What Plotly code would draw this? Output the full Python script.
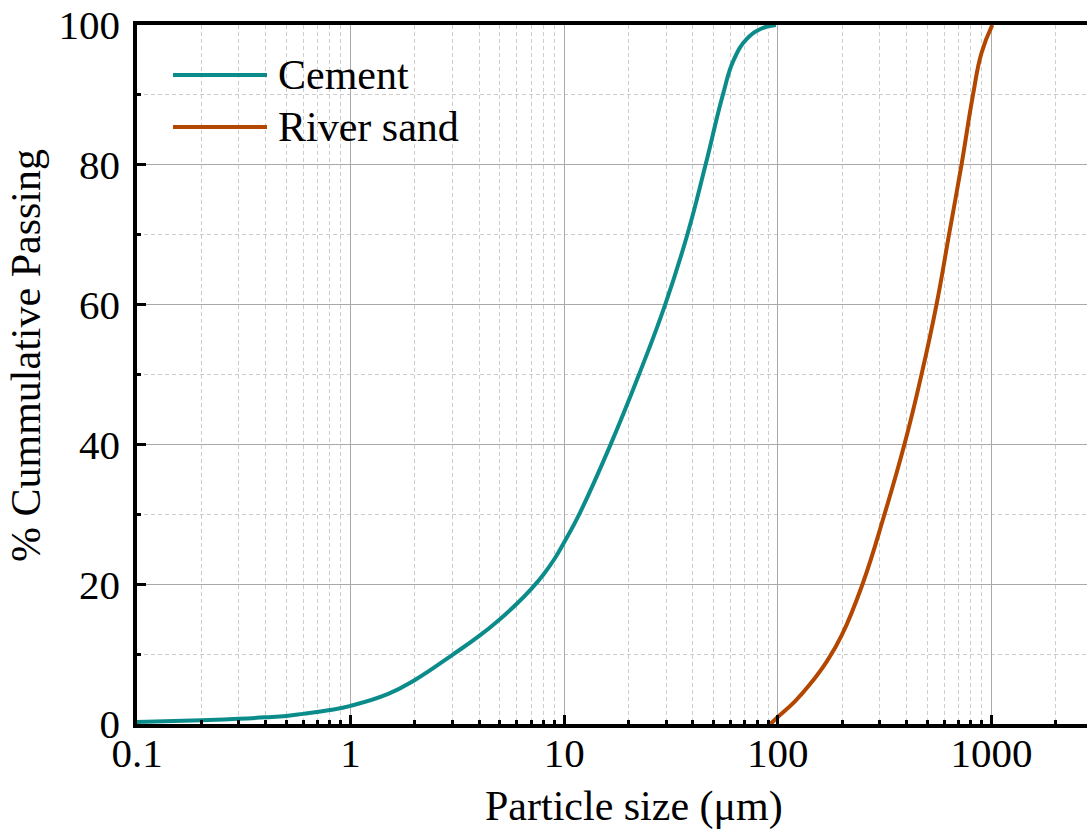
import plotly.graph_objects as go

# Particle size distribution (cumulative % passing) for the two materials
cement_size = [0.1, 0.2, 0.3, 0.4, 0.5, 0.6, 0.8, 1, 1.5, 2, 3, 4, 5, 6, 7, 8, 9, 10,
               11.8, 16.5, 22.4, 29.7, 37.7, 45.9, 55.3, 62.2, 71.6, 84, 98]
cement_pass = [0.3, 0.55, 0.75, 0.95, 1.15, 1.45, 2.0, 2.6, 4.3, 6.3, 9.9, 12.6, 15.0, 17.2, 19.3, 21.4, 23.6, 26.0,
               30.1, 40, 50, 60, 70, 80, 90, 95, 98, 99.5, 100]

sand_size = [92.4, 100, 120, 140.8, 170, 199.3, 249.2, 315.9, 394, 470.8, 553.4, 633.2, 724.4, 820.1, 898.8, 1010]
sand_pass = [0, 1.0, 3.2, 5.6, 9.0, 12.7, 20, 30, 40.3, 50, 60, 70, 80, 90, 96, 100]

x_major = [0.1, 1, 10, 100, 1000]
x_major_text = ["0.1", "1", "10", "100", "1000"]
x_minor = [m * d for d in [0.1, 1, 10, 100, 1000] for m in range(2, 10)]
y_major = [0, 20, 40, 60, 80, 100]
y_minor = [10, 30, 50, 70, 90]

series_names = ["Cement", "River sand"]
series_colors = ["#0B8C8A", "#B34700"]

FONT = "Liberation Serif"
W, H = 1087, 839
L, R, T, B = 137, 0, 25, 115
PW, PH = W - L - R, H - T - B


def px_to_paper(px, py):
    return (px - L) / PW, (H - B - py) / PH


fig = go.Figure()
fig.add_trace(go.Scatter(x=cement_size, y=cement_pass, mode="lines", name=series_names[0],
                         line=dict(color=series_colors[0], width=4, shape="spline", smoothing=1.3)))
fig.add_trace(go.Scatter(x=sand_size, y=sand_pass, mode="lines", name=series_names[1],
                         line=dict(color=series_colors[1], width=4, shape="spline", smoothing=1.3)))

# Hand-drawn legend (long line samples)
legend_rows = [75, 127]
for name, color, py in zip(series_names, series_colors, legend_rows):
    x0, yy = px_to_paper(173, py)
    x1, _ = px_to_paper(267, py)
    fig.add_shape(type="line", xref="paper", yref="paper", x0=x0, x1=x1, y0=yy, y1=yy,
                  line=dict(color=color, width=4))
    xt, _ = px_to_paper(276, py)
    fig.add_annotation(xref="paper", yref="paper", x=xt, y=yy, text=name, showarrow=False,
                       xanchor="left", yanchor="middle", font=dict(family=FONT, size=42, color="black"))

# Axis titles
tx, ty = px_to_paper(634, 806)
fig.add_annotation(xref="paper", yref="paper", x=tx, y=ty, text="Particle size (μm)", showarrow=False,
                   xanchor="center", yanchor="middle", font=dict(family=FONT, size=42, color="black"))
tx, ty = px_to_paper(26, 356)
fig.add_annotation(xref="paper", yref="paper", x=tx, y=ty, text="% Cummulative Passing", showarrow=False,
                   textangle=-90, xanchor="center", yanchor="middle",
                   font=dict(family=FONT, size=42, color="black"))

x_end = -1 + PW / 213.6

fig.update_xaxes(type="log", range=[-1, x_end], tickmode="array", tickvals=x_major, ticktext=x_major_text,
                 ticks="inside", ticklen=9, tickwidth=3, tickcolor="black",
                 showline=True, linecolor="black", linewidth=3.5, mirror=True,
                 showgrid=True, gridcolor="#a9a9a9", gridwidth=1,
                 ticklabelstandoff=-10,
                 minor=dict(tickmode="array", tickvals=x_minor, ticks="inside", ticklen=4, tickwidth=3,
                            tickcolor="black", showgrid=True, gridcolor="#cccccc", gridwidth=1,
                            griddash="4px,3px"),
                 tickfont=dict(family=FONT, size=41, color="black"), zeroline=False)
fig.update_yaxes(range=[0, 100], tickmode="array", tickvals=y_major,
                 ticks="inside", ticklen=9, tickwidth=3, tickcolor="black",
                 showline=True, linecolor="black", linewidth=3.5, mirror=False,
                 showgrid=True, gridcolor="#a9a9a9", gridwidth=1,
                 ticklabelstandoff=5,
                 minor=dict(tickmode="array", tickvals=y_minor, ticks="inside", ticklen=4, tickwidth=3,
                            tickcolor="black", showgrid=True, gridcolor="#cccccc", gridwidth=1,
                            griddash="4px,3px"),
                 tickfont=dict(family=FONT, size=41, color="black"), zeroline=False)

fig.update_layout(width=W, height=H, margin=dict(l=L, r=R, t=T, b=B, pad=0),
                  plot_bgcolor="white", paper_bgcolor="white", showlegend=False)

fig.write_html("out.html")
